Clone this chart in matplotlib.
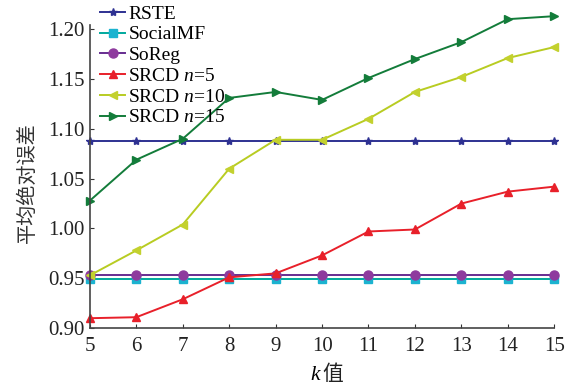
import matplotlib.pyplot as plt
import numpy as np

plt.rcParams['font.family'] = ['Liberation Serif', 'Noto Sans CJK SC']
plt.rcParams['mathtext.fontset'] = 'custom'
plt.rcParams['mathtext.it'] = 'Liberation Serif:italic'
plt.rcParams['mathtext.rm'] = 'Liberation Serif'

# data
k = [5, 6, 7, 8, 9, 10, 11, 12, 13, 14, 15]
rste = [1.088] * 11
socialmf = [0.949] * 11
soreg = [0.953] * 11
srcd5 = [0.910, 0.911, 0.929, 0.951, 0.955, 0.973, 0.997, 0.999, 1.025, 1.037, 1.042]
srcd10 = [0.953, 0.978, 1.004, 1.060, 1.089, 1.089, 1.110, 1.137, 1.152, 1.171, 1.182]
srcd15 = [1.028, 1.069, 1.090, 1.131, 1.137, 1.129, 1.151, 1.170, 1.187, 1.210, 1.213]

series = [
    ('RSTE', rste, '#2e3192', '#2e3192', '*', 6),
    ('SocialMF', socialmf, '#00a99d', '#1bb3d0', 's', 5.5),
    ('SoReg', soreg, '#662d91', '#8e3a9e', 'o', 6.5),
    ('SRCD $n$=5', srcd5, '#e8202a', '#e8202a', '^', 6),
    ('SRCD $n$=10', srcd10, '#b8cc22', '#c3d12e', '<', 6),
    ('SRCD $n$=15', srcd15, '#137c3a', '#137c3a', '>', 6),
]

fig = plt.figure(figsize=(5.69, 3.87), dpi=100)
ax = fig.add_axes([0.158, 0.152, 0.816, 0.783])

for name, vals, lc, mc, mk, ms in series:
    ax.plot(k, vals, color=lc, marker=mk, markersize=ms, markerfacecolor=mc,
            markeredgecolor=mc, linewidth=1.4, label=name, clip_on=False)

ax.set_xlim(5, 15)
ax.set_ylim(0.9, 1.204)
ax.set_xticks(k)
ax.set_yticks([0.90, 0.95, 1.00, 1.05, 1.10, 1.15, 1.20])
ax.set_yticklabels(['0.90', '0.95', '1.00', '1.05', '1.10', '1.15', '1.20'])
ax.tick_params(direction='in', labelsize=15, length=3, colors='#333333',
               labelcolor='#222222')
ax.tick_params(axis='x', pad=6)
ax.spines['top'].set_visible(False)
ax.spines['right'].set_visible(False)
for s in ['left', 'bottom']:
    ax.spines[s].set_color('#444444')
    ax.spines[s].set_linewidth(1.2)

# x label: italic k followed by the CJK character
ax.text(0.5, -0.155, '$k$', transform=ax.transAxes, fontsize=15.5,
        ha='right', va='center')
ax.text(0.5, -0.155, '值', transform=ax.transAxes, fontsize=15,
        ha='left', va='center', color='#222222')
ax.set_ylabel('平均绝对误差', fontsize=14.5, color='#333333')
ax.yaxis.set_label_coords(-0.112, 0.48)

ax.legend(loc='upper left', bbox_to_anchor=(0.022, 1.066), frameon=False,
          fontsize=14, handlelength=1.3, handletextpad=0.15,
          labelspacing=0.16, borderaxespad=0.0, borderpad=0.0)

fig.savefig('out.png', dpi=100)
